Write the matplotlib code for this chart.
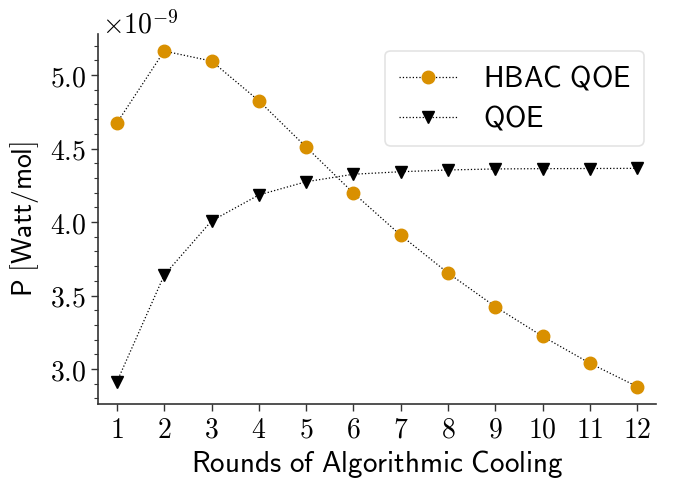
import numpy as np
import matplotlib
matplotlib.use("Agg")
import matplotlib.pyplot as plt
from matplotlib.ticker import MultipleLocator, FuncFormatter

# ---- data ----
rounds = [1, 2, 3, 4, 5, 6, 7, 8, 9, 10, 11, 12]
hbac_qoe = [4.674, 5.163, 5.095, 4.825, 4.510, 4.197, 3.910, 3.653, 3.424, 3.222, 3.039, 2.880]
qoe = [2.913, 3.639, 4.007, 4.184, 4.274, 4.325, 4.342, 4.354, 4.361, 4.363, 4.364, 4.365]
scale = 1e-9

plt.rcParams['mathtext.fontset'] = 'cm'

fig = plt.figure(figsize=(6.73, 4.79), dpi=100)
ax = fig.add_axes([0.1456, 0.1566, 0.8294, 0.7724])

ax.plot(rounds, np.array(hbac_qoe) * scale, ':', color='black', linewidth=0.9,
        marker='o', markersize=9, markerfacecolor='#d99000', markeredgecolor='#d99000',
        label=r'$\mathsf{HBAC\ QOE}$')
ax.plot(rounds, np.array(qoe) * scale, ':', color='black', linewidth=0.9,
        marker='v', markersize=8.5, markerfacecolor='black', markeredgecolor='black',
        label=r'$\mathsf{QOE}$')

ax.set_xlim(0.6, 12.4)
ax.set_ylim(2.762e-9, 5.279e-9)
ax.set_xticks(rounds)
ax.xaxis.set_major_formatter(FuncFormatter(lambda v, p: r'$%d$' % round(v)))
ax.yaxis.set_major_locator(MultipleLocator(0.5e-9))
ax.yaxis.set_minor_locator(MultipleLocator(0.1e-9))
ax.yaxis.set_major_formatter(FuncFormatter(lambda v, p: r'$%.1f$' % (v / scale)))
ax.text(0.007, 0.985, r'$\times10^{-9}$', transform=ax.transAxes, fontsize=20,
        ha='left', va='bottom')

for s in ['top', 'right']:
    ax.spines[s].set_visible(False)
for s in ['left', 'bottom']:
    ax.spines[s].set_color('#333333')
    ax.spines[s].set_linewidth(1.2)

ax.tick_params(axis='both', which='major', labelsize=20, length=5, width=1, color='#333333')
ax.tick_params(axis='y', which='minor', length=3, width=0.8, color='#333333')

ax.set_xlabel(r'$\mathsf{Rounds\ of\ Algorithmic\ Cooling}$', fontsize=21, labelpad=3)
ax.set_ylabel(r'$\mathsf{P\ [Watt/mol]}$', fontsize=20, labelpad=6)

leg = ax.legend(loc='upper left', fontsize=21, frameon=True, fancybox=True,
                handlelength=2.0, handletextpad=0.9, borderpad=0.45, labelspacing=0.38,
                borderaxespad=0, bbox_to_anchor=(0.515, 0.955))
leg.get_frame().set_edgecolor('#dddddd')
leg.get_frame().set_linewidth(1.2)
leg.set_zorder(5)

fig.savefig('out.png', dpi=100)
